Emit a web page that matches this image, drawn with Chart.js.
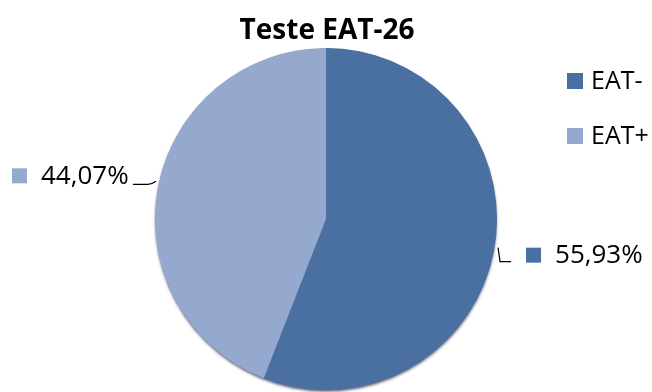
<!DOCTYPE html>
<html>
<head>
<meta charset="utf-8">
<script src="https://cdn.jsdelivr.net/npm/chart.js@4"></script>
<style>
  html, body { margin: 0; padding: 0; background: #fff; }
  #wrap { width: 652px; height: 392px; }
</style>
</head>
<body>
<div id="wrap"><canvas id="eat-chart"></canvas></div>
<script>
const labels = ["EAT-", "EAT+"]
const values = [55.93, 44.07]
const valueLabels = ["55,93%", "44,07%"]
const colors = ["#4a70a2", "#94a9cd"]
const titleText = "Teste EAT-26"

const FONT = "'Open Sans', 'Noto Sans', sans-serif"

// title, legend, data labels with leader lines
const decorations = {
  id: "decorations",
  afterDraw(chart) {
    const ctx = chart.ctx
    ctx.save()

    ctx.fillStyle = "#000"
    ctx.textAlign = "center"
    ctx.textBaseline = "middle"
    ctx.font = "bold 28px " + FONT
    ctx.fillText(titleText, 327, 31)

    // legend
    ctx.textAlign = "left"
    ctx.font = "25px " + FONT
    const legendY = [81, 136]
    labels.forEach((l, i) => {
      ctx.fillStyle = colors[i]
      ctx.fillRect(567, legendY[i] - 8, 16, 16)
      ctx.fillStyle = "#000"
      ctx.fillText(l, 591, legendY[i] + 1)
    })

    // data labels
    ctx.font = "26px " + FONT
    const meta = chart.getDatasetMeta(0)
    meta.data.forEach((arc, i) => {
      const mid = (arc.startAngle + arc.endAngle) / 2
      const px = arc.x + Math.cos(mid) * arc.outerRadius
      const py = arc.y + Math.sin(mid) * arc.outerRadius
      const right = Math.cos(mid) >= 0
      ctx.strokeStyle = "#000"
      ctx.lineWidth = 1.2
      ctx.beginPath()
      let tx, ty
      if (right) {
        ctx.moveTo(px + 4, py - 3)
        ctx.lineTo(px + 6, py + 11)
        ctx.lineTo(px + 17, py + 11)
        tx = px + 32
        ty = py + 4
      } else {
        ctx.moveTo(px - 2, py - 6)
        ctx.quadraticCurveTo(px - 6, py - 3, px - 10, py - 3)
        ctx.lineTo(px - 25, py - 3)
        tx = px - 146
        ty = py - 12
      }
      ctx.stroke()
      ctx.fillStyle = colors[i]
      ctx.fillRect(tx, ty - 7, 15, 15)
      ctx.fillStyle = "#000"
      ctx.fillText(valueLabels[i], tx + 29, ty + 1)
    })
    ctx.restore()
  }
}

// one soft shadow under the whole pie, drawn before the slices
const pieShadow = {
  id: "pieShadow",
  beforeDatasetsDraw(chart) {
    const arc = chart.getDatasetMeta(0).data[0]
    if (!arc) return
    const ctx = chart.ctx
    ctx.save()
    ctx.shadowColor = "rgba(20,30,60,0.75)"
    ctx.shadowBlur = 3
    ctx.shadowOffsetY = 2
    ctx.fillStyle = colors[0]
    ctx.beginPath()
    ctx.arc(arc.x, arc.y, arc.outerRadius - 0.5, 0, Math.PI * 2)
    ctx.fill()
    ctx.restore()
  }
}

new Chart(document.getElementById("eat-chart"), {
  type: "pie",
  data: {
    labels,
    datasets: [
      {
        data: values,
        backgroundColor: colors,
        borderWidth: 0
      }
    ]
  },
  options: {
    responsive: true,
    maintainAspectRatio: false,
    animation: false,
    layout: { padding: { top: 48, bottom: 2, left: 155, right: 155 } },
    plugins: {
      legend: { display: false },
      title: { display: false },
      tooltip: { enabled: false }
    }
  },
  plugins: [pieShadow, decorations]
})
</script>
</body>
</html>
